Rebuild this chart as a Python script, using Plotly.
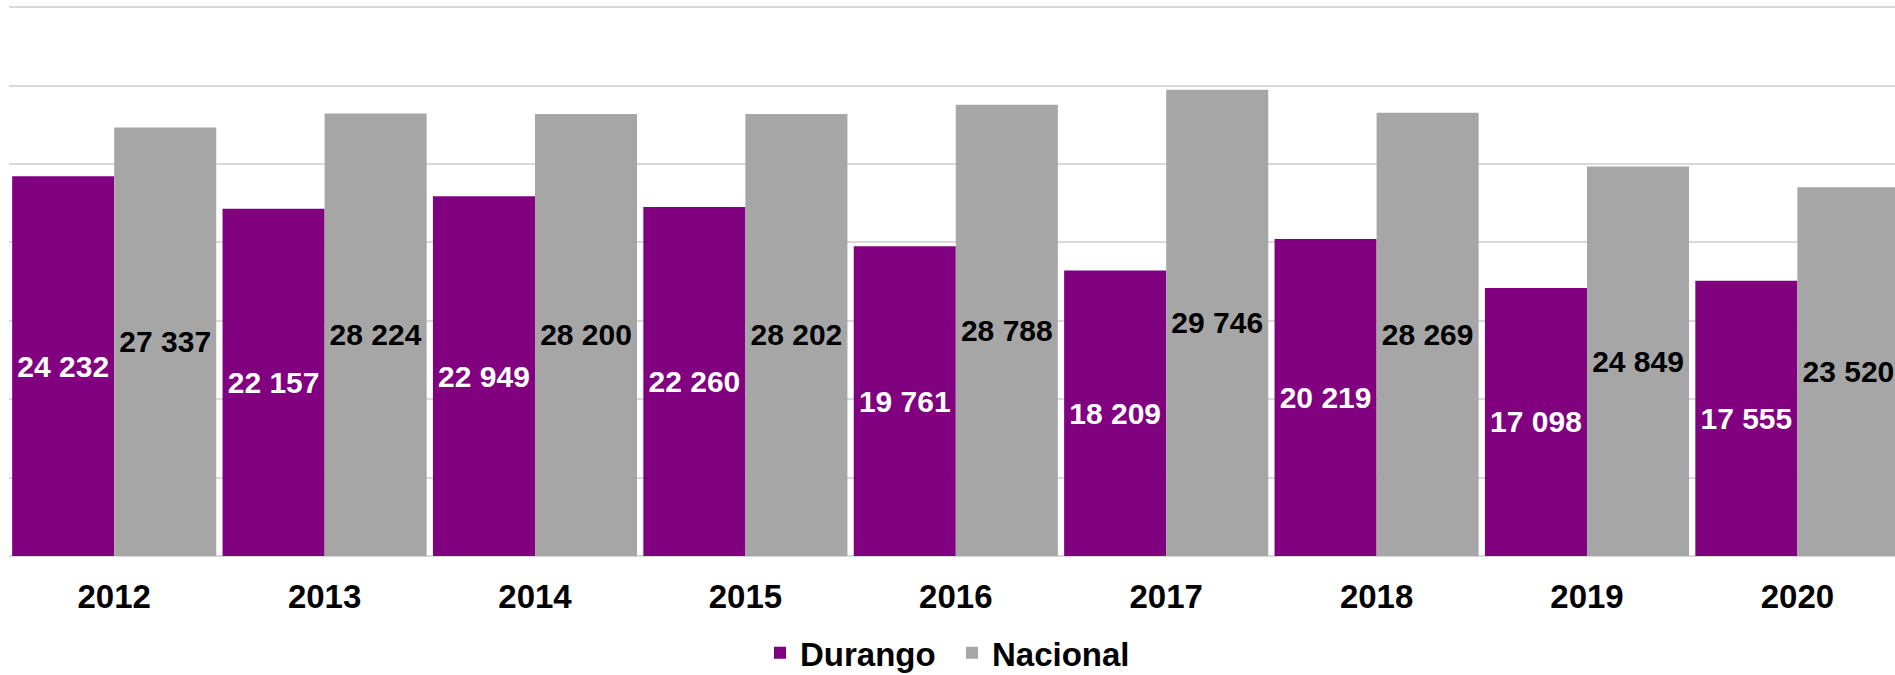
import plotly.graph_objects as go

years = ["2012", "2013", "2014", "2015", "2016", "2017", "2018", "2019", "2020"]
durango = [24232, 22157, 22949, 22260, 19761, 18209, 20219, 17098, 17555]
nacional = [27337, 28224, 28200, 28202, 28788, 29746, 28269, 24849, 23520]

FONT = "Liberation Sans, Arial, sans-serif"

fig = go.Figure()
fig.add_trace(
    go.Bar(
        x=years,
        y=durango,
        name="Durango",
        marker=dict(color="#800080", line=dict(width=0)),
        texttemplate="<b>%{y:,}</b>",
        textposition="inside",
        insidetextanchor="middle",
        textangle=0,
        constraintext="none",
        textfont=dict(family=FONT, size=30, color="white"),
    )
)
fig.add_trace(
    go.Bar(
        x=years,
        y=nacional,
        name="Nacional",
        marker=dict(color="#A6A6A6", line=dict(width=0)),
        texttemplate="<b>%{y:,}</b>",
        textposition="inside",
        insidetextanchor="middle",
        textangle=0,
        constraintext="none",
        textfont=dict(family=FONT, size=30, color="black"),
    )
)

fig.update_layout(
    width=1895,
    height=675,
    margin=dict(l=9, r=0, t=5, b=119),
    plot_bgcolor="white",
    paper_bgcolor="white",
    separators=". ",
    barmode="group",
    bargap=0.03,
    bargroupgap=0,
    font=dict(family=FONT, color="black"),
    legend=dict(
        orientation="h",
        xref="paper",
        x=0.5,
        xanchor="center",
        yref="container",
        y=0.033,
        yanchor="middle",
        font=dict(family=FONT, size=33, color="black", weight="bold"),
        itemwidth=30,
        entrywidth=147,
        traceorder="normal",
    ),
    xaxis=dict(
        type="category",
        range=[-0.5, 8.464],
        showgrid=False,
        showline=False,
        ticks="",
        ticklabelstandoff=18,
        tickfont=dict(family=FONT, size=33, color="black", weight="bold"),
    ),
    yaxis=dict(
        range=[0, 35150],
        tickvals=[0, 5000, 10000, 15000, 20000, 25000, 30000, 35000],
        showgrid=True,
        gridcolor="#D9D9D9",
        gridwidth=1.5,
        zeroline=True,
        zerolinecolor="#D9D9D9",
        showticklabels=False,
        ticks="",
    ),
)

# drop the default page margin so the figure sits at the window's top-left corner
fig.write_html(
    "out.html",
    config={"displayModeBar": False},
    post_script="document.body.style.margin='0';document.body.style.overflow='hidden';",
)
